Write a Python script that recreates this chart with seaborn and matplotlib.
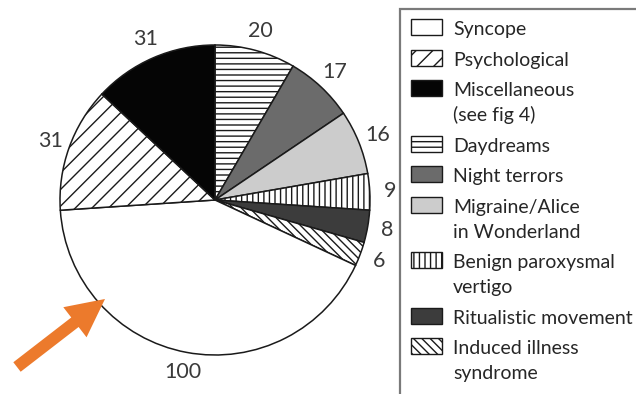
import matplotlib
matplotlib.use("Agg")
import matplotlib.pyplot as plt
import seaborn as sns
import numpy as np
from matplotlib.patches import Rectangle, FancyArrow

# Diagnoses, in clockwise order from 12 o'clock
categories = ["Daydreams", "Night terrors", "Migraine/Alice\nin Wonderland",
              "Benign paroxysmal\nvertigo", "Ritualistic movement",
              "Induced illness\nsyndrome", "Syncope", "Psychological",
              "Miscellaneous\n(see fig 4)"]
counts = [20, 17, 16, 9, 8, 6, 100, 31, 31]
fills = ["white", "#6b6b6b", "#cccccc", "white", "#3c3c3c",
         "white", "white", "white", "#050505"]
hatches = ["---", None, None, "|||", None, "\\\\\\\\", None, "//", None]
legend_order = ["Syncope", "Psychological", "Miscellaneous\n(see fig 4)",
                "Daydreams", "Night terrors", "Migraine/Alice\nin Wonderland",
                "Benign paroxysmal\nvertigo", "Ritualistic movement",
                "Induced illness\nsyndrome"]

sns.set_theme(style="white")
plt.rcParams["font.family"] = ["Lato", "DejaVu Sans"]
plt.rcParams["hatch.linewidth"] = 1.0
plt.rcParams["hatch.color"] = "#1a1a1a"

W, H = 636, 394
fig = plt.figure(figsize=(W / 100, H / 100), dpi=100)
ax = fig.add_axes([0, 0, 1, 1])

cx, cy, R = 215, 194, 155
wedges, _ = ax.pie(counts, startangle=90, counterclock=False,
                   center=(cx, cy), radius=R, colors=fills,
                   wedgeprops=dict(edgecolor="#1a1a1a", linewidth=1.1),
                   frame=False)
for w, h in zip(wedges, hatches):
    if h:
        w.set_hatch(h)

# value labels just outside each wedge
for w, v in zip(wedges, counts):
    ang = np.deg2rad((w.theta1 + w.theta2) / 2)
    ax.text(cx + 1.13 * R * np.cos(ang), cy + 1.13 * R * np.sin(ang), str(v),
            ha="center", va="center", fontsize=15.5, color="#3a3a3a")

ax.set_xlim(0, W)
ax.set_ylim(0, H)
ax.set_aspect("auto")
ax.axis("off")

# orange pointer towards the syncope wedge
ax.add_patch(FancyArrow(17, 27, 88, 68, width=12, head_width=38,
                        head_length=38, length_includes_head=True,
                        color="#ec7a2c", lw=0))

# key: swatch aligned with the first line of each (possibly wrapped) label
by_name = dict(zip(categories, wedges))
entry_gap, line_gap = 30.5, 25
base = 35  # first baseline, pixels from the top
for name in legend_order:
    w = by_name[name]
    ax.add_patch(Rectangle((411, H - base), 31, 16,
                           facecolor=w.get_facecolor(), hatch=w.get_hatch(),
                           edgecolor="#1a1a1a", lw=1.0))
    lines = name.split("\n")
    for i, line in enumerate(lines):
        ax.text(453, H - (base + i * line_gap), line, ha="left",
                va="baseline", fontsize=14, color="#262626")
    base += (len(lines) - 1) * line_gap + entry_gap

ax.add_patch(Rectangle((400, -30), 320, H - 9 + 30, fill=False,
                       edgecolor="#7a7a7a", lw=1.6, clip_on=False))

fig.savefig("out.png", dpi=100)
